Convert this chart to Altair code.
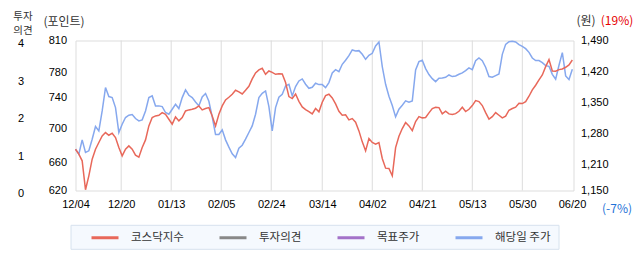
import json
import altair as alt
import pandas as pd

FONT = "Noto Sans CJK KR"

# ---- data ----
dates = ["12/04", "12/20", "01/13", "02/05", "02/24", "03/14", "04/02", "04/21", "05/13", "05/30", "06/20"]
date_ticks = [0, 13.7, 28.7, 43.7, 58.7, 74.0, 89.0, 104.0, 119.0, 134.0, 148.9]

kosdaq = [
    672.3, 666.0, 657.6, 620.9, 638.6, 659.7, 672.3, 680.8, 689.2, 693.4,
    690.0, 692.6, 687.1, 674.4, 663.9, 672.3, 676.5, 672.3, 664.7, 662.2,
    674.4, 684.1, 701.8, 712.4, 714.5, 715.3, 718.7, 716.6, 710.3, 704.0,
    713.2, 708.2, 712.4, 720.8, 722.1, 722.9, 724.2, 727.1, 722.1, 723.8,
    725.0, 714.5, 701.8, 716.6, 727.1, 734.7, 738.1, 741.9, 747.0, 744.9,
    742.3, 747.0, 752.0, 761.3, 768.9, 772.7, 774.8, 767.2, 771.4, 769.7,
    767.2, 768.0, 767.6, 756.7, 738.9, 736.4, 742.3, 733.0, 725.9, 722.5,
    720.0, 717.0, 723.8, 719.6, 731.8, 740.2, 741.9, 737.3, 729.7, 720.4,
    715.3, 715.8, 709.4, 711.1, 706.5, 695.5, 681.6, 670.2, 685.8, 680.8,
    678.6, 680.8, 660.5, 648.3, 647.9, 638.6, 674.4, 688.8, 698.5, 706.1,
    701.8, 695.9, 707.3, 713.6, 712.0, 712.4, 718.3, 723.8, 725.5, 725.0,
    717.0, 720.4, 717.0, 716.2, 717.4, 720.4, 725.5, 720.0, 722.9, 727.6,
    733.9, 732.6, 727.6, 718.7, 710.3, 713.6, 718.7, 715.3, 712.0, 714.1,
    721.7, 723.8, 725.5, 730.5, 730.1, 732.6, 739.4, 747.4, 753.3, 760.0,
    766.4, 776.9, 785.8, 771.4, 771.0, 773.1, 773.9, 776.1, 779.0, 785.3,
]

price = [
    1243.7, 1232.4, 1264.8, 1236.1, 1240.0, 1266.3, 1295.0, 1285.2, 1330.4, 1383.3,
    1362.9, 1360.6, 1338.0, 1281.4, 1300.3, 1315.4, 1320.6, 1322.1, 1313.1, 1307.8,
    1310.1, 1330.4, 1360.6, 1364.4, 1341.8, 1341.8, 1340.3, 1326.7, 1322.9, 1334.2,
    1345.5, 1335.7, 1360.6, 1378.0, 1365.9, 1360.6, 1350.8, 1341.8, 1362.1, 1369.7,
    1352.3, 1316.9, 1276.9, 1276.9, 1287.4, 1264.8, 1248.2, 1233.1, 1224.8, 1246.0,
    1252.7, 1266.3, 1281.4, 1296.5, 1322.9, 1360.6, 1370.4, 1375.7, 1340.2, 1285.2,
    1338.0, 1361.4, 1368.2, 1387.0, 1390.8, 1364.4, 1385.5, 1398.3, 1402.9, 1390.8,
    1381.7, 1384.0, 1393.1, 1390.0, 1390.0, 1383.3, 1394.6, 1416.5, 1424.0, 1419.5,
    1436.1, 1445.1, 1455.7, 1468.5, 1466.2, 1467.0, 1458.7, 1447.4, 1456.4, 1461.0,
    1477.6, 1486.6, 1430.8, 1390.8, 1363.6, 1342.5, 1316.9, 1334.2, 1343.3, 1353.1,
    1350.1, 1353.1, 1423.2, 1442.1, 1445.1, 1426.3, 1412.7, 1403.6, 1396.8, 1404.4,
    1405.1, 1406.6, 1411.9, 1408.2, 1409.7, 1413.4, 1416.5, 1421.7, 1427.8, 1424.0,
    1444.4, 1450.4, 1444.4, 1429.3, 1408.2, 1406.6, 1410.4, 1414.2, 1458.7, 1481.3,
    1487.4, 1488.1, 1486.6, 1480.6, 1476.8, 1471.5, 1463.2, 1450.4, 1444.4, 1444.4,
    1439.8, 1433.0, 1431.5, 1413.4, 1402.1, 1433.8, 1462.5, 1409.7, 1401.4, 1424.8,
]

kosdaq_ticks = [620, 656, 698, 738, 770, 810]
kosdaq_labels = ["620", "660", "700", "740", "780", "810"]
price_ticks = [1150, 1210, 1280, 1350, 1420, 1490]
opinion_ticks = [0, 1, 2, 3, 4]

series = ["코스닥지수", "투자의견", "목표주가", "해당일 주가"]
colors = ["#e8685a", "#888888", "#a372c9", "#86a8ee"]

# ---- tables ----
idx = list(range(len(kosdaq)))
df_k = pd.DataFrame({"i": idx, "v": kosdaq, "s": series[0]})
df_p = pd.DataFrame({"i": idx, "v": price, "s": series[3]})
df_grid = pd.DataFrame({"t": date_ticks[1:-1]})
one = pd.DataFrame({"a": [0]})

x_expr = "{}[indexof({}, datum.value)]".format(json.dumps(dates), json.dumps(date_ticks))
k_expr = "{}[indexof({}, datum.value)]".format(json.dumps(kosdaq_labels), json.dumps(kosdaq_ticks))

x_scale = alt.Scale(domain=[0, 149.35], nice=False, zero=False)
color_scale = alt.Scale(domain=series, range=colors)

x_enc = alt.X(
    "i:Q", scale=x_scale, title=None,
    axis=alt.Axis(values=date_ticks, labelExpr=x_expr, grid=False, ticks=False, domain=False,
                  labelFlush=False, labelOverlap=False, labelPadding=8, labelFontSize=11),
)

legend = alt.Legend(
    orient="none", legendX=14.5, legendY=190.5, direction="horizontal", title=None,
    symbolType="M-1,0H4.4", symbolSize=100, symbolStrokeWidth=3, labelOffset=28,
    columnPadding=29, labelFontSize=11.5, labelFont=FONT, labelColor="#333333", padding=0,
)

grid = alt.Chart(df_grid).mark_rule(color="#dcdcdc", strokeWidth=1).encode(
    x=alt.X("t:Q", scale=x_scale)
)

legend_box = alt.Chart(one).mark_rect(fill="#f5f9fe", stroke="#d6e2ee", strokeWidth=1).encode(
    x=alt.value(-4.5), x2=alt.value(483.5), y=alt.value(184.8), y2=alt.value(208.8)
)

opinion = alt.Chart(one).mark_rule(opacity=0).encode(
    y=alt.YDatum(0, type="quantitative", scale=alt.Scale(domain=[0, 4], nice=False),
                 axis=alt.Axis(orient="left", offset=50, values=opinion_ticks, format="d",
                               labelAlign="center", labelPadding=5, labelOffset=3, ticks=False,
                               domain=False, grid=False, title=None, labelFontSize=11))
)

red = alt.Chart(df_k).mark_line(strokeWidth=1.5).encode(
    x=x_enc,
    y=alt.Y("v:Q", scale=alt.Scale(domain=[620, 810], nice=False, zero=False), title=None,
            axis=alt.Axis(orient="left", values=kosdaq_ticks, labelExpr=k_expr, ticks=False,
                          domain=False, grid=False, labelPadding=9, labelFontSize=11)),
    color=alt.Color("s:N", scale=color_scale, legend=legend),
)

blue = alt.Chart(df_p).mark_line(strokeWidth=1.5).encode(
    x=x_enc,
    y=alt.Y("v:Q", scale=alt.Scale(domain=[1150, 1490], nice=False, zero=False), title=None,
            axis=alt.Axis(orient="right", values=price_ticks, format=",d", ticks=False,
                          domain=False, grid=False, labelPadding=7, labelFontSize=11)),
    color=alt.Color("s:N", scale=color_scale, legend=legend),
)


def txt(t, x, y, color="#333333", size=12, lh=15.3):
    return alt.Chart(one).mark_text(text=t, font=FONT, fontSize=size, color=color,
                                    align="center", baseline="middle", lineHeight=lh).encode(
        x=alt.value(x), y=alt.value(y))


texts = [
    txt(["투자", "의견"], -52.5, -23.5, size=10.5, lh=14),
    txt("(포인트)", -11.5, -19.0),
    txt("(원)", 510.5, -19.5),
    txt("(19%)", 541.5, -19.5, color="#e60000"),
    txt("(-7%)", 541.5, 168.3, color="#1f72d8"),
]

chart = alt.layer(grid, legend_box, opinion, blue, red, *texts).resolve_scale(
    y="independent"
).properties(
    width=498, height=150, autosize="none",
    padding={"left": 75.5, "top": 40.5, "right": 68.5, "bottom": 77.5},
).configure_view(
    fill="#f5f5f5", stroke="#b8b8b8", strokeWidth=1
).configure_axis(
    labelFont=FONT, labelColor="#333333"
).configure(background="white")

chart.save("out.html", embed_options={"renderer": "svg", "actions": False})
